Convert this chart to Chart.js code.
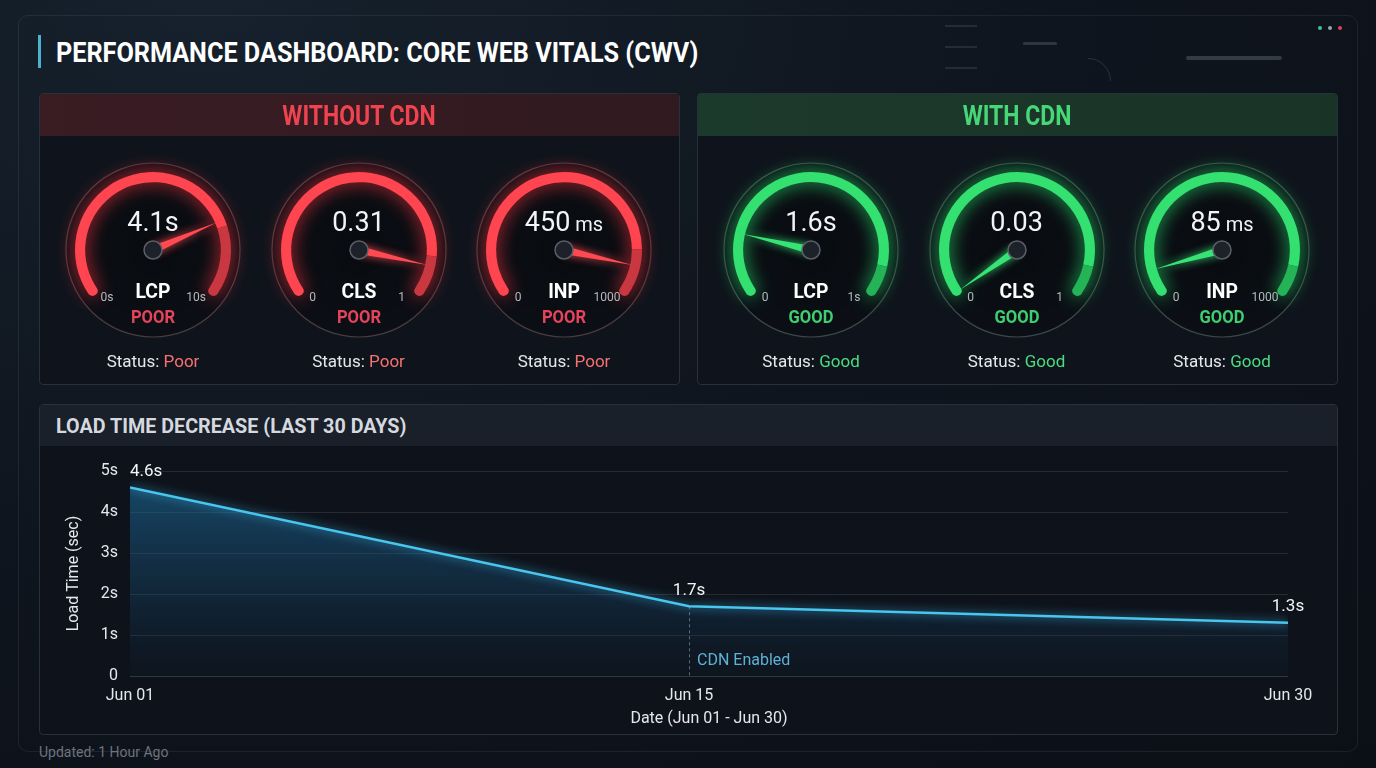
<!DOCTYPE html>
<html><head><meta charset="utf-8">
<script src="https://cdn.jsdelivr.net/npm/chart.js@4.4.1/dist/chart.umd.min.js"></script>
<style>
html,body{margin:0;padding:0;width:1376px;height:768px;overflow:hidden;background:#0d131b;font-family:Roboto,"Noto Sans",sans-serif;}
#bg{position:absolute;left:0;top:0;width:1376px;height:768px;background:radial-gradient(ellipse at 15% 0%, #16212d 0%, #0f151e 50%, #0b1017 100%);}
#frame{position:absolute;left:18px;top:15px;width:1340px;height:737px;border:1px solid rgba(255,255,255,0.07);border-radius:10px;box-sizing:border-box;}
.c{position:absolute;transform:translate(-50%,-50%);white-space:nowrap;}
.panel{position:absolute;background:#10151d;border:1px solid #28303a;border-radius:4px;box-sizing:border-box;overflow:hidden;}
canvas.g{position:absolute;}
.txt{position:absolute;z-index:5;}
</style></head>
<body>
<div id="bg"></div>
<div id="frame"></div>
<div id="root"></div>
<script>
// ---- gauge data ----
const gaugeGroups = ['WITHOUT CDN', 'WITH CDN'];
const gaugeMetrics = ['LCP', 'CLS', 'INP', 'LCP', 'CLS', 'INP'];
const gaugeValueText = ['4.1', '0.31', '450', '1.6', '0.03', '85'];
const gaugeUnits = ['s', '', 'ms', 's', '', 'ms'];
const gaugeMinLabels = ['0s', '0', '0', '0', '0', '0'];
const gaugeMaxLabels = ['10s', '1', '1000', '1s', '1', '1000'];
const gaugeNeedle = [0.76, 0.90, 0.90, 0.20, 0.012, 0.086];   // needle position as a fraction of the dial
const gaugeArcBright = [0.78, 0.87, 0.85, 0.9, 0.9, 0.9];     // bright part of the dial arc
const gaugeRatings = ['POOR', 'POOR', 'POOR', 'GOOD', 'GOOD', 'GOOD'];
const gaugeStatus = ['Poor', 'Poor', 'Poor', 'Good', 'Good', 'Good'];

// ---- load time data ----
const days = [1, 15, 30];
const loadTimes = [4.6, 1.7, 1.3];
const xTickDays = [1, 15, 30];
const xTickLabels = ['Jun 01', 'Jun 15', 'Jun 30'];
const yTicks = [0, 1, 2, 3, 4, 5];
const yTickLabels = ['0', '1s', '2s', '3s', '4s', '5s'];
const cdnEnabledDay = 15;
const cdnEnabledText = 'CDN Enabled';

const root = document.getElementById('root');
function el(tag, cls, style, html) {
  const e = document.createElement(tag);
  if (cls) e.className = cls;
  if (style) e.style.cssText = style;
  if (html !== undefined) e.innerHTML = html;
  root.appendChild(e);
  return e;
}
const COND = 'font-weight:700;';

// title
el('div', '', 'position:absolute;left:38px;top:35px;width:3px;height:33px;background:#4cb3cf;');
el('div', 'txt', 'left:56px;top:52px;transform:translateY(-50%) scaleX(0.9);transform-origin:left center;font-size:28px;color:#fff;' + COND + 'white-space:nowrap;', 'PERFORMANCE DASHBOARD: CORE WEB VITALS (CWV)');

// decorations top right
el('div', '', 'position:absolute;left:1318px;top:26px;width:4px;height:4px;border-radius:2px;background:#3fbf9f;');
el('div', '', 'position:absolute;left:1328px;top:26px;width:4px;height:4px;border-radius:2px;background:#9aa3ad;');
el('div', '', 'position:absolute;left:1338px;top:26px;width:4px;height:4px;border-radius:2px;background:#e0405a;');
el('div', '', 'position:absolute;left:1186px;top:56px;width:96px;height:4px;border-radius:2px;background:rgba(120,135,150,0.35);');
el('div', '', 'position:absolute;left:1023px;top:42px;width:34px;height:3px;border-radius:2px;background:rgba(120,135,150,0.3);');
el('div', '', 'position:absolute;left:945px;top:25px;width:32px;height:2px;background:rgba(120,135,150,0.2);');
el('div', '', 'position:absolute;left:945px;top:46px;width:32px;height:2px;background:rgba(120,135,150,0.2);');
el('div', '', 'position:absolute;left:945px;top:67px;width:32px;height:2px;background:rgba(120,135,150,0.2);');
el('div', '', 'position:absolute;left:1065px;top:58px;width:44px;height:44px;border-radius:50%;border:1px solid rgba(120,135,150,0.25);clip-path:inset(0 0 50% 50%);');

// panels
const panelLefts = [39, 697];
const bandStyles = ['background:linear-gradient(90deg,#3a1c23,#301a20);', 'background:linear-gradient(90deg,#1c3a2c,#1a3327);'];
const bandColors = ['#ef4450', '#46d877'];
for (let p = 0; p < 2; p++) {
  el('div', 'panel', `left:${panelLefts[p]}px;top:93px;width:641px;height:292px;background:#0f141c;`);
  el('div', '', `position:absolute;left:${panelLefts[p]+1}px;top:94px;width:639px;height:42px;${bandStyles[p]}`);
  el('div', 'c txt', `left:${panelLefts[p] + 320}px;top:116px;font-size:27px;color:${bandColors[p]};${COND}transform:translate(-50%,-50%) scaleX(0.85);`, gaugeGroups[p]);
}
// chart panel
el('div', 'panel', 'left:39px;top:404px;width:1299px;height:331px;background:#0e131b;');
el('div', '', 'position:absolute;left:40px;top:405px;width:1297px;height:41px;background:#19202a;');
el('div', 'txt', 'left:56px;top:426px;transform:translateY(-50%) scaleX(0.94);transform-origin:left center;font-size:21px;color:#d5d9df;' + COND + 'white-space:nowrap;', 'LOAD TIME DECREASE (LAST 30 DAYS)');
el('div', 'txt', 'left:39px;top:752px;transform:translateY(-50%);font-size:14px;color:#6b7380;white-space:nowrap;', 'Updated: 1 Hour Ago');

// ---- gauges ----
const gaugePlugin = {
  id: 'gauge',
  beforeDatasetsDraw(chart) {
    const a = chart.getDatasetMeta(0).data[0];
    const ctx = chart.ctx;
    const good = chart.options.plugins.gauge.good;
    ctx.save();
    const grd = ctx.createRadialGradient(a.x, a.y, 10, a.x, a.y, 88);
    grd.addColorStop(0, 'rgba(8,10,14,0.85)');
    grd.addColorStop(1, 'rgba(10,13,18,0.6)');
    ctx.fillStyle = grd;
    ctx.beginPath(); ctx.arc(a.x, a.y, 87, 0, Math.PI * 2); ctx.fill();
    ctx.lineWidth = 1.2;
    ctx.strokeStyle = good ? 'rgba(150,175,160,0.35)' : 'rgba(170,120,125,0.4)';
    ctx.beginPath(); ctx.arc(a.x, a.y, 87, 0, Math.PI * 2); ctx.stroke();
    ctx.restore();
    ctx.save();
    ctx.shadowColor = good ? 'rgba(40,230,110,0.85)' : 'rgba(255,50,60,0.85)';
    ctx.shadowBlur = 18;
  },
  afterDatasetsDraw(chart) {
    const ctx = chart.ctx;
    ctx.restore();
    const meta = chart.getDatasetMeta(0);
    const a0 = meta.data[0], aN = meta.data[meta.data.length - 1];
    const o = chart.options.plugins.gauge;
    const ang = a0.startAngle + o.needle * (aN.endAngle - a0.startAngle);
    const L = 70, w = 4;
    const cx = a0.x, cy = a0.y;
    ctx.save();
    ctx.shadowColor = o.color; ctx.shadowBlur = 8;
    ctx.fillStyle = o.color;
    ctx.beginPath();
    ctx.moveTo(cx + Math.cos(ang) * L, cy + Math.sin(ang) * L);
    ctx.lineTo(cx + Math.cos(ang + Math.PI / 2) * w, cy + Math.sin(ang + Math.PI / 2) * w);
    ctx.lineTo(cx + Math.cos(ang - Math.PI / 2) * w, cy + Math.sin(ang - Math.PI / 2) * w);
    ctx.closePath(); ctx.fill();
    ctx.shadowBlur = 0;
    ctx.beginPath(); ctx.arc(cx, cy, 9, 0, Math.PI * 2);
    ctx.fillStyle = '#1d2129'; ctx.fill();
    ctx.lineWidth = 1.5; ctx.strokeStyle = '#5b6068'; ctx.stroke();
    ctx.restore();
  }
};

for (let i = 0; i < 6; i++) {
  const p = i < 3 ? 0 : 1;
  const good = p === 1;
  const cx = panelLefts[p] + 114 + (i % 3) * 205.5;
  const cy = 250;
  const bright = good ? '#33e070' : '#ff4650';
  const dim = good ? '#24b457' : '#c93840';
  const cv = document.createElement('canvas');
  cv.className = 'g';
  cv.width = 240; cv.height = 240;
  root.appendChild(cv);
  const ch = new Chart(cv, {
    type: 'doughnut',
    data: { labels: ['a', 'b'], datasets: [{
      data: [gaugeArcBright[i], 1 - gaugeArcBright[i]],
      backgroundColor: [bright, dim],
      borderWidth: 0,
      borderRadius: (c) => c.dataIndex === 0 ? { outerStart: 5, innerStart: 5, outerEnd: 0, innerEnd: 0 } : { outerStart: 0, innerStart: 0, outerEnd: 5, innerEnd: 5 }
    }] },
    options: {
      responsive: false, animation: false, events: [],
      rotation: -128, circumference: 256, radius: 78, cutout: '87%',
      plugins: { legend: { display: false }, tooltip: { enabled: false },
        gauge: { good: good, needle: gaugeNeedle[i], color: good ? '#37e374' : '#ff4a52' } }
    },
    plugins: [gaugePlugin]
  });
  const a = ch.getDatasetMeta(0).data[0];
  cv.style.left = (cx - a.x) + 'px';
  cv.style.top = (cy - a.y) + 'px';

  const valHtml = gaugeUnits[i] === 'ms'
    ? `${gaugeValueText[i]}<span style="font-size:20px"> ms</span>`
    : `${gaugeValueText[i]}${gaugeUnits[i]}`;
  el('div', 'c txt', `left:${cx}px;top:222px;font-size:27px;color:#f3f4f6;`, valHtml);
  el('div', 'c txt', `left:${cx}px;top:291px;font-size:21px;color:#ffffff;${COND}transform:translate(-50%,-50%) scaleX(0.92);`, gaugeMetrics[i]);
  el('div', 'c txt', `left:${cx}px;top:316px;font-size:18px;color:${good ? '#3fcf72' : '#e5445a'};${COND}transform:translate(-50%,-50%) scaleX(0.92);`, gaugeRatings[i]);
  el('div', 'c txt', `left:${cx - 46}px;top:297px;font-size:12px;color:#b4b9c0;`, gaugeMinLabels[i]);
  el('div', 'c txt', `left:${cx + 43}px;top:297px;font-size:12px;color:#b4b9c0;`, gaugeMaxLabels[i]);
  el('div', 'c txt', `left:${cx}px;top:361px;font-size:17px;color:#e5e7eb;`, `Status: <span style="color:${good ? '#4ade80' : '#f87171'}">${gaugeStatus[i]}</span>`);
}

// ---- line chart ----
const lc = document.createElement('canvas');
lc.width = 1296; lc.height = 286;
lc.style.cssText = 'position:absolute;left:40px;top:447px;';
root.appendChild(lc);

const linePlugin = {
  id: 'lineDeco',
  beforeDatasetDraw(chart) {
    chart.ctx.save();
    chart.ctx.shadowColor = 'rgba(70,200,255,0.8)';
    chart.ctx.shadowBlur = 10;
  },
  afterDatasetDraw(chart) { chart.ctx.restore(); },
  afterDatasetsDraw(chart) {
    const ctx = chart.ctx;
    const meta = chart.getDatasetMeta(0);
    const xs = chart.scales.x, ys = chart.scales.y;
    const idx = days.indexOf(cdnEnabledDay);
    const px = xs.getPixelForValue(cdnEnabledDay);
    const py = ys.getPixelForValue(loadTimes[idx]);
    ctx.save();
    ctx.setLineDash([3, 3]);
    ctx.strokeStyle = 'rgba(160,180,200,0.55)';
    ctx.lineWidth = 1;
    ctx.beginPath(); ctx.moveTo(px + 0.5, py); ctx.lineTo(px + 0.5, ys.getPixelForValue(0)); ctx.stroke();
    ctx.setLineDash([]);
    ctx.font = '16px Roboto';
    ctx.fillStyle = '#5fb2d3';
    ctx.textAlign = 'left'; ctx.textBaseline = 'middle';
    ctx.fillText(cdnEnabledText, px + 8, ys.getPixelForValue(0) - 15);
    ctx.fillStyle = '#f3f4f6';
    ctx.font = '17px Roboto';
    meta.data.forEach((pt, i) => {
      ctx.textAlign = i === 0 ? 'left' : 'center';
      ctx.fillText(loadTimes[i] + 's', pt.x, pt.y - 16);
    });
    ctx.restore();
  }
};

new Chart(lc, {
  type: 'line',
  data: { datasets: [{
    data: days.map((d, i) => ({ x: d, y: loadTimes[i] })),
    borderColor: '#48c6ee', borderWidth: 2.5, pointRadius: 0, tension: 0,
    fill: 'origin',
    backgroundColor: (c) => {
      const a = c.chart.chartArea;
      if (!a) return 'rgba(30,100,140,0.3)';
      const g = c.chart.ctx.createLinearGradient(0, a.top, 0, a.bottom);
      g.addColorStop(0, 'rgba(30,115,165,0.6)');
      g.addColorStop(0.6, 'rgba(25,80,120,0.32)');
      g.addColorStop(1, 'rgba(20,50,80,0.08)');
      return g;
    }
  }] },
  options: {
    responsive: false, animation: false, events: [],
    layout: { padding: { top: 24, right: 48, left: 0, bottom: 0 } },
    plugins: { legend: { display: false }, tooltip: { enabled: false } },
    scales: {
      x: {
        type: 'linear', min: 1, max: 30,
        afterBuildTicks: (s) => { s.ticks = xTickDays.map(v => ({ value: v })); },
        afterFit: (s) => { s.height = 57; },
        ticks: { callback: (v) => xTickLabels[xTickDays.indexOf(v)], color: '#e5e7eb', font: { size: 16, family: 'Roboto' }, padding: 2, maxRotation: 0, autoSkip: false },
        grid: { display: false }, border: { display: false },
        title: { display: true, text: 'Date (Jun 01 - Jun 30)', color: '#e5e7eb', font: { size: 16, family: 'Roboto' }, padding: { top: 0, bottom: 4 } }
      },
      y: {
        min: 0, max: 5,
        afterBuildTicks: (s) => { s.ticks = yTicks.map(v => ({ value: v })); },
        afterFit: (s) => { s.width = 90; },
        ticks: { callback: (v) => yTickLabels[yTicks.indexOf(v)], color: '#e5e7eb', font: { size: 16, family: 'Roboto' }, padding: 12 },
        grid: { color: (c) => c.index === 0 ? 'rgba(255,255,255,0.16)' : 'rgba(255,255,255,0.10)', drawTicks: false },
        border: { display: false },
        title: { display: true, text: 'Load Time (sec)', color: '#e5e7eb', font: { size: 16, family: 'Roboto' }, padding: { top: 24, bottom: 0 } }
      }
    }
  },
  plugins: [linePlugin]
});
</script>
</body></html>
